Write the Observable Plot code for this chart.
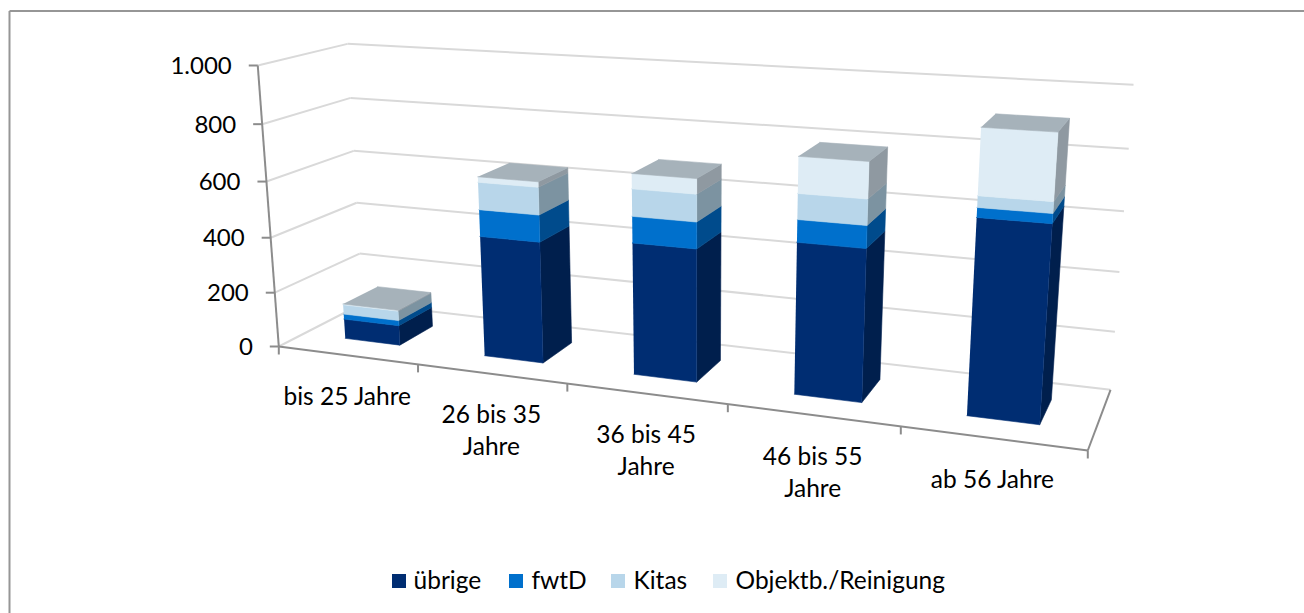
<!DOCTYPE html>
<html>
<head>
<meta charset="utf-8">
<script src="https://cdn.jsdelivr.net/npm/d3@7"></script>
<script src="https://cdn.jsdelivr.net/npm/@observablehq/plot@0.6"></script>
<style>html,body{margin:0;padding:0;background:#fff;overflow:hidden}svg{display:block}</style>
</head>
<body>
<div id="chart"></div>
<script>
const categories = ["bis 25 Jahre", "26 bis 35\nJahre", "36 bis 45\nJahre", "46 bis 55\nJahre", "ab 56 Jahre"];
const seriesNames = ["übrige", "fwtD", "Kitas", "Objektb./Reinigung"];
const uebrige = [73, 430, 458, 511, 639];
const fwtD = [19, 94, 90, 74, 31];
const kitas = [35, 95, 92, 84, 36];
const objekt = [3, 19, 51, 118, 208];
const valueTicks = [0, 200, 400, 600, 800, 1000];
const tickLabels = ["0", "200", "400", "600", "800", "1.000"];
const frontColors = ["#002D72", "#0070CC", "#B8D6EA", "#DEECF5"];
const sideColors = ["#001F4D", "#004B8C", "#7C93A1", "#8F99A1"];
const topColor = "#A6B2BA";
const gridColor = "#D9D9D9";
const axisColor = "#8C8C8C";

// Oblique camera: category position u (0..1), value v (0..1000), depth t (0..1) to plot position
function project(u, value, t) {
  const v = value / 1000;
  const w = 1 - 0.1684 * u - 0.0527 * v + 0.08666 * t;
  return [
    (278.3 + 625.9 * u - 34.6 * v + 115.1 * t - 4 * u * v) / w,
    (346 + 28.2 * u - 284.43 * v - 16.74 * t) / w
  ];
}
const link = (p, q, color) => ({x1: p[0], y1: p[1], x2: q[0], y2: q[1], color});

const grid = [];
for (const v of valueTicks) {
  grid.push(link(project(0, v, 0), project(0, v, 1), gridColor));
  grid.push(link(project(0, v, 1), project(1, v, 1), gridColor));
}
const axes = [
  link(project(0, 0, 0), project(0, 1000, 0), axisColor),
  link(project(0, 0, 0), project(1, 0, 0), axisColor),
  link(project(1, 0, 0), project(1, 0, 1), axisColor)
];
for (const v of valueTicks) {
  const p = project(0, v, 0);
  axes.push(link(p, [p[0] - 9, p[1]], axisColor));
}
for (let i = 0; i <= categories.length; i++) {
  const p = project(i / categories.length, 0, 0);
  axes.push(link(p, [p[0], p[1] + 8], axisColor));
}

const halfLeft = 0.039, halfRight = 0.041, t0 = 0.29, t1 = 0.71;
const series = [uebrige, fwtD, kitas, objekt];
const faces = [];
function addFace(id, color, corners) {
  corners.forEach((c, k) => {
    const p = project(c[0], c[1], c[2]);
    faces.push({id, color, k, x: p[0], y: p[1]});
  });
}
categories.forEach((_, i) => {
  const uc = (i + 0.5) / categories.length, a = uc - halfLeft, b = uc + halfRight;
  let base = 0;
  series.forEach((values, s) => {
    const top = base + values[i];
    addFace(`s${i}-${s}`, sideColors[s], [[b, base, t0], [b, base, t1], [b, top, t1], [b, top, t0]]);
    addFace(`f${i}-${s}`, frontColors[s], [[a, base, t0], [b, base, t0], [b, top, t0], [a, top, t0]]);
    base = top;
  });
  addFace(`t${i}`, topColor, [[a, base, t0], [b, base, t0], [b, base, t1], [a, base, t1]]);
});

const yLabels = valueTicks.map((v, i) => {
  const p = project(0, v, 0);
  return {x: p[0] - 26, y: p[1] + 1, label: tickLabels[i]};
});
const xLabels = categories.map((c, i) => {
  const p = project((i + 0.5) / categories.length, 0, 0);
  return {x: p[0], y: p[1] + 27, label: c};
});
const legendSwatch = [392, 509, 611, 713];
const legendText = [413, 531, 633, 735];
const legendRows = seriesNames.map((name, i) => ({name, color: frontColors[i], x: legendSwatch[i], tx: legendText[i]}));
const frameLines = [
  {x1: 9, y1: 10.5, x2: 1304, y2: 10.5},
  {x1: 9, y1: 10.5, x2: 9, y2: 613}
];

const font = "Lato, 'Open Sans', sans-serif";
const chart = Plot.plot({
  width: 1304, height: 613,
  margin: 0,
  style: {background: "#fff"},
  x: {domain: [0, 1304], range: [0, 1304], axis: null},
  y: {domain: [0, 613], range: [0, 613], axis: null},
  marks: [
    Plot.link(frameLines, {x1: "x1", y1: "y1", x2: "x2", y2: "y2", stroke: "#969696", strokeWidth: 2}),
    Plot.link(grid, {x1: "x1", y1: "y1", x2: "x2", y2: "y2", stroke: "color", strokeWidth: 2}),
    Plot.link(axes, {x1: "x1", y1: "y1", x2: "x2", y2: "y2", stroke: "color", strokeWidth: 2}),
    Plot.line(faces, {x: "x", y: "y", z: "id", fill: "color", stroke: "color", strokeWidth: 0.6}),
    Plot.text(yLabels, {x: "x", y: "y", text: "label", textAnchor: "end", fontSize: 24, fontFamily: font, fill: "#000"}),
    Plot.text(xLabels, {x: "x", y: "y", text: "label", lineAnchor: "top", lineHeight: 1.3, fontSize: 24.5, fontFamily: font, fill: "#000"}),
    Plot.rect(legendRows, {x1: "x", x2: d => d.x + 14, y1: 574, y2: 588, fill: "color"}),
    Plot.text(legendRows, {x: "tx", y: 581, text: "name", textAnchor: "start", fontSize: 24.5, fontFamily: font, fill: "#000"})
  ]
});
document.getElementById("chart").appendChild(chart);
</script>
</body>
</html>
